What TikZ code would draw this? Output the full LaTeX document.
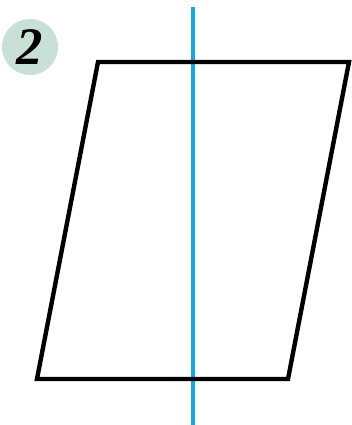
\documentclass[tikz,border=0pt]{standalone}
\usepackage{fontspec}
\newfontfamily\badgefont{Liberation Serif}
\usepackage{tikz}
\definecolor{axisblue}{RGB}{25,168,218}
\definecolor{badge}{RGB}{200,224,214}

\begin{document}
\begin{tikzpicture}[x=0.02cm,y=-0.02cm]
  \useasboundingbox (0,0) rectangle (351,425);
  \fill[badge] (30,47) circle (28);
  \node[font=\badgefont\fontsize{30}{30}\selectfont\bfseries\itshape,inner sep=0pt] (num) at (30,47) {2};
  \coordinate (tl) at (98,62);
  \coordinate (tr) at (349,62);
  \coordinate (br) at (288,379);
  \coordinate (bl) at (37,379);
  \draw[axisblue,line width=2pt] (193,7) -- (193,425);
  \draw[line width=2.5pt,line join=miter] (tl) -- (tr) -- (br) -- (bl) -- cycle;
\end{tikzpicture}
\end{document}
